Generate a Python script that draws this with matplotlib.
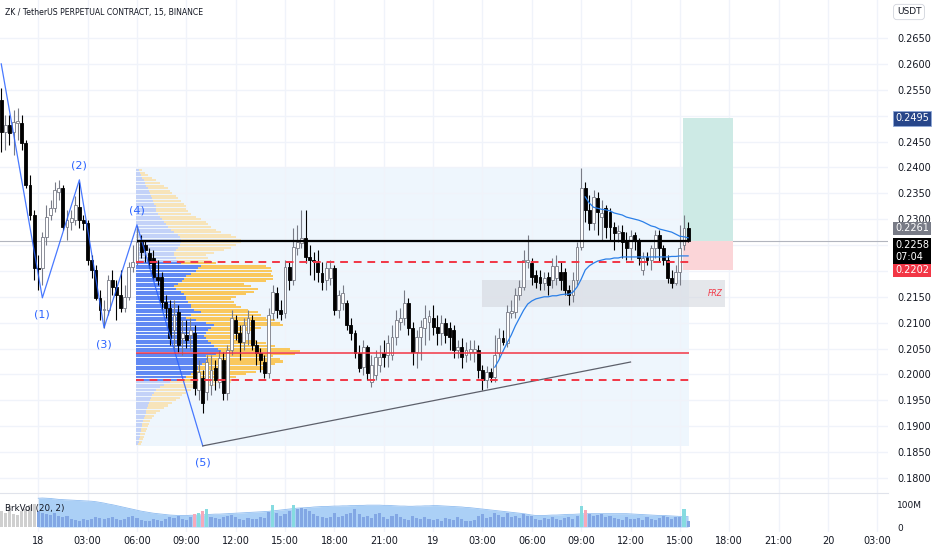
import matplotlib
matplotlib.use("Agg")
import matplotlib.pyplot as plt
from matplotlib.patches import Rectangle
import numpy as np

plt.rcParams["font.family"] = ["DejaVu Sans"]

# ---- data: 15m bars, bar 0 = 18th 00:00, first bar is 17th 21:45 ----
first_bar = -9
opens = [
    0.2530, 0.2468, 0.2482, 0.2468, 0.2486, 0.2486, 0.2447, 0.2366, 0.2308, 0.2206,
    0.2206, 0.2266, 0.2308, 0.2322, 0.2352, 0.2360, 0.2285, 0.2295, 0.2298, 0.2323,
    0.2298, 0.2293, 0.2221, 0.2202, 0.2148, 0.2124, 0.2124, 0.2182, 0.2169, 0.2154,
    0.2128, 0.2150, 0.2208, 0.2217, 0.2256, 0.2250, 0.2235, 0.2225, 0.2188, 0.2188,
    0.2140, 0.2128, 0.2086, 0.2121, 0.2070, 0.2076, 0.2076, 0.2080, 0.1970, 0.1993,
    0.1967, 0.1980, 0.2012, 0.1985, 0.2028, 0.1965, 0.2047, 0.2105, 0.2080, 0.2063,
    0.2080, 0.2105, 0.2057, 0.2041, 0.2024, 0.2003, 0.2119, 0.2157, 0.2124, 0.2119,
    0.2208, 0.2182, 0.2244, 0.2254, 0.2264, 0.2227, 0.2221, 0.2215, 0.2196, 0.2182,
    0.2186, 0.2206, 0.2124, 0.2138, 0.2138, 0.2095, 0.2080, 0.2041, 0.2014, 0.2053,
    0.1985, 0.1999, 0.2018, 0.2041, 0.2038, 0.2038, 0.2072, 0.2101, 0.2109, 0.2138,
    0.2090, 0.2043, 0.2072, 0.2090, 0.2101, 0.2109, 0.2091, 0.2080, 0.2099, 0.2090,
    0.2086, 0.2047, 0.2053, 0.2038, 0.2043, 0.2043, 0.2047, 0.2009, 0.1989, 0.2005,
    0.1995, 0.2041, 0.2070, 0.2061, 0.2119, 0.2121, 0.2154, 0.2169, 0.2217, 0.2215,
    0.2192, 0.2188, 0.2177, 0.2188, 0.2182, 0.2186, 0.2198, 0.2198, 0.2163, 0.2154,
    0.2182, 0.2246, 0.2360, 0.2318, 0.2293, 0.2341, 0.2304, 0.2322, 0.2314, 0.2285,
    0.2273, 0.2275, 0.2260, 0.2244, 0.2269, 0.2260, 0.2202, 0.2227, 0.2221, 0.2244,
    0.2269, 0.2244, 0.2221, 0.2186, 0.2177, 0.2198, 0.2250, 0.2283,
]
highs = [
    0.2553, 0.2501, 0.2501, 0.2511, 0.2515, 0.2501, 0.2453, 0.2385, 0.2318, 0.2231,
    0.2275, 0.2327, 0.2337, 0.2372, 0.2376, 0.2366, 0.2318, 0.2318, 0.2345, 0.2372,
    0.2308, 0.2298, 0.2231, 0.2212, 0.2163, 0.2144, 0.2192, 0.2202, 0.2182, 0.2202,
    0.2173, 0.2217, 0.2250, 0.2287, 0.2269, 0.2260, 0.2244, 0.2240, 0.2221, 0.2198,
    0.2154, 0.2144, 0.2144, 0.2134, 0.2105, 0.2105, 0.2109, 0.2095, 0.2028, 0.2009,
    0.2038, 0.2038, 0.2028, 0.2047, 0.2043, 0.2057, 0.2124, 0.2115, 0.2095, 0.2109,
    0.2124, 0.2115, 0.2067, 0.2051, 0.2038, 0.2128, 0.2173, 0.2169, 0.2144, 0.2221,
    0.2217, 0.2283, 0.2289, 0.2318, 0.2318, 0.2250, 0.2236, 0.2240, 0.2217, 0.2217,
    0.2221, 0.2212, 0.2163, 0.2173, 0.2144, 0.2109, 0.2086, 0.2057, 0.2067, 0.2057,
    0.2038, 0.2047, 0.2057, 0.2067, 0.2076, 0.2095, 0.2124, 0.2128, 0.2163, 0.2148,
    0.2101, 0.2086, 0.2105, 0.2134, 0.2124, 0.2134, 0.2115, 0.2115, 0.2109, 0.2101,
    0.2095, 0.2067, 0.2070, 0.2063, 0.2067, 0.2067, 0.2057, 0.2018, 0.2016, 0.2012,
    0.2076, 0.2090, 0.2086, 0.2134, 0.2144, 0.2167, 0.2182, 0.2240, 0.2269, 0.2225,
    0.2202, 0.2202, 0.2198, 0.2198, 0.2225, 0.2231, 0.2217, 0.2206, 0.2173, 0.2198,
    0.2256, 0.2399, 0.2372, 0.2346, 0.2356, 0.2352, 0.2337, 0.2327, 0.2322, 0.2295,
    0.2289, 0.2289, 0.2275, 0.2279, 0.2275, 0.2264, 0.2236, 0.2236, 0.2250, 0.2279,
    0.2279, 0.2250, 0.2231, 0.2202, 0.2212, 0.2289, 0.2308, 0.2295,
]
lows = [
    0.2430, 0.2434, 0.2443, 0.2424, 0.2453, 0.2434, 0.2360, 0.2298, 0.2182, 0.2163,
    0.2173, 0.2250, 0.2298, 0.2314, 0.2337, 0.2279, 0.2260, 0.2279, 0.2289, 0.2283,
    0.2279, 0.2212, 0.2186, 0.2144, 0.2105, 0.2090, 0.2115, 0.2154, 0.2105, 0.2121,
    0.2121, 0.2144, 0.2198, 0.2212, 0.2225, 0.2217, 0.2206, 0.2182, 0.2173, 0.2124,
    0.2109, 0.2057, 0.2047, 0.2043, 0.2038, 0.2051, 0.2047, 0.1960, 0.1951, 0.1926,
    0.1951, 0.1960, 0.1970, 0.1974, 0.1951, 0.1951, 0.2038, 0.2067, 0.2028, 0.2047,
    0.2057, 0.2047, 0.2018, 0.2005, 0.1993, 0.1993, 0.2105, 0.2109, 0.2105, 0.2109,
    0.2163, 0.2173, 0.2231, 0.2244, 0.2215, 0.2192, 0.2182, 0.2179, 0.2163, 0.2163,
    0.2173, 0.2115, 0.2109, 0.2124, 0.2086, 0.2067, 0.2032, 0.2005, 0.1999, 0.1989,
    0.1976, 0.1989, 0.2005, 0.2014, 0.2014, 0.2028, 0.2057, 0.2086, 0.2095, 0.2076,
    0.2018, 0.2012, 0.2028, 0.2057, 0.2067, 0.2076, 0.2057, 0.2057, 0.2061, 0.2047,
    0.2032, 0.2032, 0.2012, 0.2024, 0.2028, 0.2024, 0.1993, 0.1970, 0.1974, 0.1985,
    0.1985, 0.2032, 0.2057, 0.2053, 0.2109, 0.2109, 0.2144, 0.2163, 0.2206, 0.2173,
    0.2167, 0.2163, 0.2163, 0.2154, 0.2167, 0.2173, 0.2163, 0.2154, 0.2134, 0.2140,
    0.2173, 0.2240, 0.2295, 0.2279, 0.2279, 0.2269, 0.2260, 0.2264, 0.2260, 0.2240,
    0.2256, 0.2225, 0.2221, 0.2221, 0.2240, 0.2212, 0.2192, 0.2212, 0.2202, 0.2225,
    0.2217, 0.2212, 0.2177, 0.2167, 0.2173, 0.2173, 0.2240, 0.2256,
]
closes = [
    0.2468, 0.2482, 0.2466, 0.2488, 0.2490, 0.2447, 0.2366, 0.2308, 0.2206, 0.2204,
    0.2266, 0.2304, 0.2322, 0.2356, 0.2360, 0.2285, 0.2298, 0.2302, 0.2327, 0.2298,
    0.2293, 0.2221, 0.2202, 0.2148, 0.2124, 0.2126, 0.2182, 0.2169, 0.2154, 0.2128,
    0.2150, 0.2208, 0.2217, 0.2256, 0.2236, 0.2240, 0.2215, 0.2188, 0.2182, 0.2140,
    0.2128, 0.2070, 0.2115, 0.2057, 0.2080, 0.2067, 0.2086, 0.1974, 0.2005, 0.1945,
    0.2024, 0.2009, 0.1989, 0.2032, 0.1965, 0.2047, 0.2109, 0.2080, 0.2063, 0.2095,
    0.2109, 0.2057, 0.2041, 0.2028, 0.2003, 0.2115, 0.2159, 0.2124, 0.2117, 0.2208,
    0.2182, 0.2246, 0.2256, 0.2264, 0.2227, 0.2221, 0.2219, 0.2198, 0.2179, 0.2206,
    0.2206, 0.2124, 0.2154, 0.2157, 0.2095, 0.2080, 0.2041, 0.2012, 0.2053, 0.2003,
    0.2018, 0.2034, 0.2034, 0.2034, 0.2061, 0.2072, 0.2105, 0.2109, 0.2138, 0.2090,
    0.2043, 0.2072, 0.2091, 0.2109, 0.2113, 0.2091, 0.2080, 0.2099, 0.2076, 0.2072,
    0.2047, 0.2053, 0.2034, 0.2047, 0.2049, 0.2049, 0.2009, 0.1989, 0.2005, 0.1995,
    0.2038, 0.2070, 0.2063, 0.2121, 0.2122, 0.2154, 0.2169, 0.2221, 0.2221, 0.2188,
    0.2179, 0.2177, 0.2186, 0.2173, 0.2210, 0.2210, 0.2182, 0.2163, 0.2154, 0.2182,
    0.2246, 0.2360, 0.2318, 0.2293, 0.2343, 0.2314, 0.2312, 0.2285, 0.2285, 0.2273,
    0.2277, 0.2256, 0.2244, 0.2267, 0.2260, 0.2225, 0.2225, 0.2221, 0.2244, 0.2269,
    0.2244, 0.2221, 0.2186, 0.2177, 0.2198, 0.2244, 0.2283, 0.2258,
]
volumes = [  # millions
    70, 62, 90, 58, 52, 68, 78, 95, 100,
    70, 63, 56, 53, 59, 49, 42, 46, 35, 31, 28, 34, 31, 36, 42, 39, 35,
    39, 42, 34, 31, 36, 42, 49, 39, 31, 28, 25, 34,
    31, 28, 35, 42, 39, 49, 36, 31, 42, 56, 63, 70, 80,
    42, 39, 35, 45, 49, 53, 42, 35, 31, 39, 34, 36, 42, 39, 66, 95,
    63, 49, 56, 70, 95, 80, 82, 78, 70,
    56, 49, 42, 39, 45, 63, 42, 49, 56, 63, 77, 56, 42, 49,
    39, 56, 63, 42, 35, 49, 56, 42, 35, 31, 49, 39, 34, 42, 36,
    31, 35, 28, 39, 34, 31, 42, 36, 28, 25, 31, 49, 56, 39, 42,
    63, 53, 42, 59, 42, 49, 39, 56, 50, 49, 35, 31, 39, 34, 42, 36, 31, 39, 42, 35, 49,
    90, 72,
    56, 49, 53, 56, 42, 49, 39, 35, 31, 42, 36, 34, 39, 31, 42, 35, 31, 39, 49, 42, 36, 45, 45,
    80, 28,
]
# BrkVol band (from bar 0 on)
brkvol_band = [
    125, 126, 125, 124, 122, 120,
    119, 118, 117, 116, 115, 114, 113, 112,
    110, 107, 104, 100, 97,
    93, 89, 85, 81, 77, 73, 69, 66,
    63, 60, 58, 56, 54, 52, 51, 50,
    50, 50, 51, 51, 52, 53, 54, 55, 56, 56, 57, 58,
    59, 60, 61, 62, 63, 64, 65, 66, 67, 68, 70,
    72, 74, 76, 78, 80, 82, 83, 84, 85, 87, 88,
    89, 89, 90, 91, 91, 92, 92, 93, 93, 94, 94, 95, 95, 95,
    95, 94, 94, 93, 92, 91, 91, 90,
    90, 91, 91, 92, 92, 93, 93,
    92, 91, 90, 89, 88, 87, 85, 84, 82, 80,
    78, 76, 74, 72, 70, 68, 66, 64, 62, 60, 58, 55, 52, 50,
    50, 50, 51, 52, 52, 53, 54, 55, 55, 56, 57, 58,
    58, 58, 58, 58, 58, 58, 58, 58, 58, 58,
    57, 56, 55, 54, 53, 52, 51, 50, 50, 49, 48, 47,
    46, 46, 45,
]

# volume profile (fixed range from 06:00), rows from 0.1865 upward
vp_low, vp_step = 0.1865, 0.0005
vp_buy = [
    2, 3, 3, 4, 4, 5, 5, 6, 6, 7,
    8, 9, 10, 10, 11, 12, 13, 14, 15, 16,
    18, 20, 24, 28, 34,
    45, 50, 55, 60, 62,
    62, 66, 70, 72, 70,
    80, 85, 82, 78,
    75, 72, 70, 68, 70, 72, 75,
    78, 70, 60, 50, 55, 65,
    58, 55, 55, 52, 50, 50,
    48, 45, 40, 38, 42,
    46, 48, 50, 55,
    60, 62, 65,
    45, 42, 40, 38, 38,
    40, 42, 44, 45, 45, 44,
    42, 38, 35, 32, 30, 28,
    26, 24, 22, 20, 20, 20,
    18, 17, 16, 15, 14, 13, 12,
    10, 9, 8, 6, 5, 4, 3,
]
vp_sell = [
    3, 3, 4, 4, 5, 5, 6, 6, 7, 7,
    8, 9, 10, 14, 17, 20, 23, 26, 29, 30,
    32, 35, 41, 52, 61,
    50, 50, 55, 60, 68,
    73, 74, 78, 73, 68,
    80, 80, 73, 62,
    55, 48, 40, 37, 40, 46, 50,
    70, 75, 80, 80, 70, 57,
    54, 50, 45, 46, 45, 50,
    62, 73, 82, 77, 66,
    84, 90, 88, 80,
    77, 73, 65,
    35, 33, 32, 32, 40,
    48, 53, 56, 60, 60, 56,
    53, 47, 45, 43, 42, 42,
    39, 36, 33, 32, 30, 30,
    30, 28, 26, 25, 22, 21, 20,
    18, 15, 12, 10, 7, 5, 3,
]
va_low, va_high, poc = 0.1989, 0.2217, 0.2041
last_price = 0.2258

# Elliott count and trend line
wave_bars = [-9, 1, 10, 16, 24, 40]
wave_prices = [0.2600, 0.2148, 0.2376, 0.2090, 0.2289, 0.1862]
wave_labels = ["(1)", "(2)", "(3)", "(4)", "(5)"]
wave_label_prices = [0.2115, 0.2404, 0.2057, 0.2316, 0.1829]
trend_bars = [40, 144]
trend_prices = [0.1862, 0.2024]

# anchored vwap lines
vwap_start = 111
vwap_mid = [
    0.2014, 0.2028, 0.2045, 0.2061, 0.2076, 0.2094, 0.2109, 0.2124, 0.2136, 0.2142,
    0.2146, 0.2148, 0.2150, 0.2150, 0.2152, 0.2152, 0.2154, 0.2155, 0.2155, 0.2159,
    0.2169, 0.2184, 0.2202, 0.2210, 0.2215, 0.2219, 0.2221, 0.2223, 0.2223, 0.2225,
    0.2225, 0.2227, 0.2227, 0.2227, 0.2227, 0.2227, 0.2227, 0.2227, 0.2227, 0.2227,
    0.2227, 0.2227, 0.2227, 0.2228, 0.2228, 0.2229, 0.2229, 0.2229,
]
vwap_upper_start = 133
vwap_upper = [
    0.2343, 0.2331, 0.2323, 0.2321, 0.2319, 0.2318, 0.2316, 0.2312, 0.2310, 0.2308,
    0.2304, 0.2302, 0.2300, 0.2298, 0.2295, 0.2291, 0.2287, 0.2285, 0.2281, 0.2279,
    0.2277, 0.2275, 0.2271, 0.2267, 0.2266, 0.2264,
]

price_ticks = [round(0.180 + 0.005 * i, 3) for i in range(18)]
hidden_ticks = [0.250, 0.225, 0.220]  # covered by the price scale labels
time_ticks = ["18", "03:00", "06:00", "09:00", "12:00", "15:00", "18:00", "21:00",
              "19", "03:00", "06:00", "09:00", "12:00", "15:00", "18:00", "21:00",
              "20", "03:00"]

# ---- figure ----
W, H = 932, 550
fig = plt.figure(figsize=(W / 100, H / 100), dpi=100)
ax = fig.add_axes([0, (H - 492) / H, 888 / W, 492 / H])
axv = fig.add_axes([0, (H - 532) / H, 888 / W, 40 / H])

bars = np.arange(first_bar, first_bar + len(closes))
o, h, l, c = map(np.array, (opens, highs, lows, closes))
up = c >= o
xmin, xmax = -9.3, 206.6
tick_pos = np.arange(len(time_ticks)) * 12

for a in (ax, axv):
    a.set_xlim(xmin, xmax)
    a.set_xticks(tick_pos)
    for s in a.spines.values():
        s.set_visible(False)
    a.grid(True, color="#f0f3fa", lw=1, zorder=0)
    a.set_axisbelow(True)

ax.set_ylim(0.17729, 0.27234)
ax.set_yticks(price_ticks)
ax.yaxis.tick_right()
ax.set_yticklabels(["" if t in hidden_ticks else f"{t:.4f}" for t in price_ticks])
ax.tick_params(axis="y", length=0, pad=6.5, labelsize=7, labelcolor="#131722")
ax.tick_params(axis="x", length=0, labelbottom=False)

# volume profile
vp_left = 23.7
vp_right = 158.3
ax.add_patch(Rectangle((vp_left, 0.1862), vp_right - vp_left, 0.2398 - 0.1862,
                       fc="#eef6fd", ec="none", zorder=0.5))
px_per_bar = 4.12
vp_prices = vp_low + vp_step * np.arange(len(vp_buy))
buy_w = np.array(vp_buy) / px_per_bar
sell_w = np.array(vp_sell) / px_per_bar
in_va = (vp_prices >= va_low) & (vp_prices <= va_high)
ax.barh(vp_prices, buy_w, left=vp_left, height=vp_step * 0.78,
        color=np.where(in_va, "#6088f3", "#c3d2f8"), lw=0, zorder=1)
ax.barh(vp_prices, sell_w, left=vp_left + buy_w, height=vp_step * 0.78,
        color=np.where(in_va, "#f9c85e", "#f7e4ba"), lw=0, zorder=1)

# FRZ zone and long position
ax.add_patch(Rectangle((108, 0.2130), 167 - 108, 0.2182 - 0.2130,
                       fc="#d1d4dc", alpha=0.55, ec="none", zorder=1.2))
ax.text(166.5, 0.2156, "FRZ", color="#f23645", fontsize=5.5, style="italic",
        ha="right", va="center", zorder=5)
ax.add_patch(Rectangle((156.8, last_price), 12.1, 0.2495 - last_price,
                       fc="#cdeae5", ec="none", zorder=1.2))
ax.add_patch(Rectangle((156.8, 0.2202), 12.1, last_price - 0.2202,
                       fc="#fbd5d8", ec="none", zorder=1.2))

# levels
ax.axhline(last_price, color="#b2b5be", lw=0.8, zorder=1.1)
ax.hlines(last_price, 24, vp_right, color="#000000", lw=1.6, zorder=4)
ax.hlines([va_high, va_low], vp_left, vp_right, color="#f23645", lw=1.4,
          linestyles=(0, (4, 3)), zorder=4)
ax.hlines(poc, vp_left, vp_right, color="#f23645", lw=1.1, zorder=4)

# candles
wick_col = np.where(up, "#787b86", "#000000")
ax.vlines(bars, l, h, colors=wick_col, lw=0.8, zorder=3)
body = np.maximum(np.abs(c - o), 0.00006)
ax.bar(bars, body, bottom=np.minimum(o, c), width=0.7,
       color=np.where(up, "#ffffff", "#000000"), edgecolor=wick_col,
       linewidth=0.6, zorder=3.1)

# waves, trend line, vwap
ax.plot(wave_bars, wave_prices, color="#2962ff", lw=0.9, alpha=0.85, zorder=3.5)
for b, p, t in zip(wave_bars[1:], wave_label_prices, wave_labels):
    ax.text(b, p, t, color="#2962ff", fontsize=8, ha="center", va="center", zorder=5)
ax.plot(trend_bars, trend_prices, color="#5d606b", lw=0.9, zorder=3.5)
ax.plot(np.arange(vwap_start, vwap_start + len(vwap_mid)), vwap_mid,
        color="#2a7fe8", lw=0.9, zorder=3.6)
ax.plot(np.arange(vwap_upper_start, vwap_upper_start + len(vwap_upper)), vwap_upper,
        color="#2a7fe8", lw=0.9, zorder=3.6)

# price scale labels
tr = ax.get_yaxis_transform()
lx = 1 + 7 / 888
ax.text(lx, 0.2495, "0.2495", transform=tr, color="white", fontsize=7, va="center",
        bbox=dict(boxstyle="square,pad=0.25", fc="#27468a", ec="#8fa8d8", lw=0.6),
        clip_on=False, zorder=6)
ax.text(lx, 0.2261 + 0.0021, "0.2261", transform=tr, color="white", fontsize=7,
        va="center", bbox=dict(boxstyle="square,pad=0.2", fc="#787b86", ec="none"),
        clip_on=False, zorder=6)
ax.text(lx, last_price + 0.0001, "0.2258\n07:04", transform=tr, color="white",
        fontsize=7, va="top", linespacing=1.2,
        bbox=dict(boxstyle="square,pad=0.2", fc="#000000", ec="none"),
        clip_on=False, zorder=7)
ax.text(lx, 0.2202, "0.2202", transform=tr, color="white", fontsize=7, va="center",
        bbox=dict(boxstyle="square,pad=0.25", fc="#f23645", ec="none"),
        clip_on=False, zorder=6)

# volume pane
axv.set_ylim(-21.7, 152.2)
axv.yaxis.tick_right()
axv.set_yticks([0, 100])
axv.set_yticklabels(["0", "100M"])
axv.tick_params(axis="y", length=0, pad=6.5, labelsize=6.5, labelcolor="#131722")
axv.grid(False, axis="y")
axv.set_xticklabels(time_ticks)
axv.tick_params(axis="x", length=0, pad=3, labelsize=7, labelcolor="#131722")
vol = np.array(volumes, dtype=float)
band_bars = np.arange(0, len(brkvol_band))
band = np.array(brkvol_band, dtype=float)
axv.fill_between(band_bars, 0, band, color="#abd0f6", lw=0, zorder=1)
axv.plot(band_bars, band, color="#90bdf0", lw=0.6, zorder=1.1)
vcol = []
for b, v, u in zip(bars, vol, up):
    if b < 0:
        vcol.append("#cfcfcf")
    elif v > band[b]:
        vcol.append("#86dbe0" if u else "#f6a9ba")
    else:
        vcol.append("#82a7e4")
axv.bar(bars, vol, width=0.75, color=vcol, lw=0, zorder=2)

fig.add_artist(plt.Line2D([0, 888 / W], [1 - 493 / H] * 2, color="#e0e3eb", lw=0.8))

fig.text(5 / W, 1 - 13 / H, "ZK / TetherUS PERPETUAL CONTRACT, 15, BINANCE",
         fontsize=5.6, color="#131722", va="center")
fig.text(5 / W, 1 - 509 / H, "BrkVol (20, 2)", fontsize=6.3, color="#131722", va="center")
fig.text(909 / W, 1 - 12 / H, "USDT", fontsize=6.5, color="#131722", ha="center",
         va="center", bbox=dict(boxstyle="round,pad=0.35", fc="white", ec="#d1d4dc", lw=0.6))

fig.savefig("out.png", dpi=100)
